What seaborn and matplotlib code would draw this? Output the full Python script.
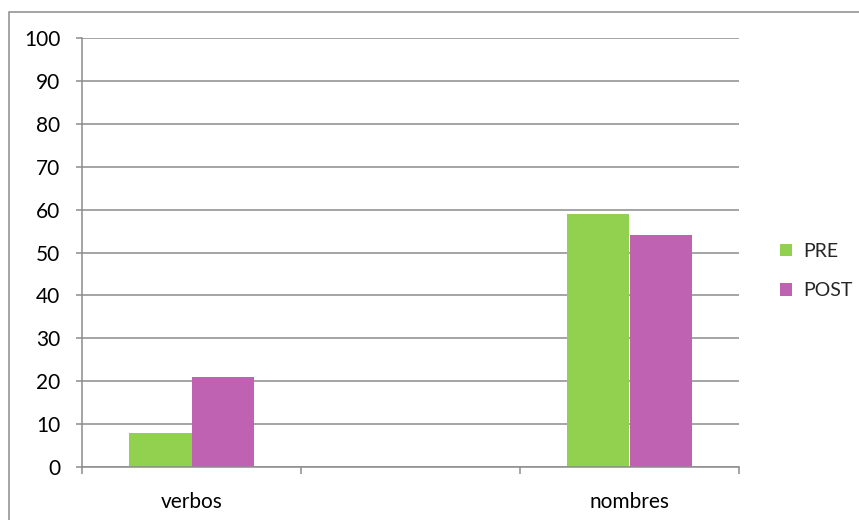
import numpy as np
import pandas as pd
import matplotlib
matplotlib.use("Agg")
import matplotlib.pyplot as plt
from matplotlib.patches import Rectangle
from matplotlib.ticker import FixedLocator
import seaborn as sns

# data (middle category is an empty slot)
categories = ["verbos", " ", "nombres"]
pre = [8, np.nan, 59]
post = [21, np.nan, 54]
series = ["PRE", "POST"]
colors = ["#92D050", "#C062B2"]

df = pd.DataFrame({
    "cat": categories * 2,
    "serie": ["PRE"] * 3 + ["POST"] * 3,
    "valor": pre + post,
}).dropna()

sns.set_style("white")
plt.rcParams["font.family"] = ["Lato", "DejaVu Sans"]

fig = plt.figure(figsize=(8.59, 5.2), dpi=100)
ax = fig.add_axes([82 / 859, 53 / 520, 657 / 859, 429 / 520])

sns.barplot(data=df, x="cat", y="valor", hue="serie", order=categories,
            hue_order=series, palette=colors, width=0.575, saturation=1,
            linewidth=0, ax=ax)

grid_c = "#8c8c8c"
ax.set_ylim(0, 100)
ax.set_xlim(-0.5, 2.5)
ax.set_yticks(range(0, 101, 10))
ax.yaxis.grid(True, color=grid_c, linewidth=1.1)
ax.set_axisbelow(True)
ax.set_xlabel("")
ax.set_ylabel("")

for s in ["top", "right"]:
    ax.spines[s].set_visible(False)
for s in ["left", "bottom"]:
    ax.spines[s].set_color(grid_c)
    ax.spines[s].set_linewidth(1.1)

ax.tick_params(axis="y", length=4.5, width=1.1, color=grid_c, pad=11,
               labelsize=15, labelcolor="black", left=True)
ax.tick_params(axis="x", which="major", length=0, pad=18,
               labelsize=15, labelcolor="black")
ax.xaxis.set_minor_locator(FixedLocator([-0.5, 0.5, 1.5, 2.5]))
ax.tick_params(axis="x", which="minor", length=5, width=1.1, color=grid_c,
               bottom=True)

handles, labels = ax.get_legend_handles_labels()
ax.legend(handles, labels, loc="center left", bbox_to_anchor=(762 / 859, 1 - 271 / 520),
          bbox_transform=fig.transFigure, frameon=False, fontsize=14,
          handlelength=0.65, handleheight=0.65, handletextpad=0.55, labelspacing=1.15)

fig.patches.append(Rectangle((9 / 859, -0.2), 2, 1.2 - 12 / 520,
                             transform=fig.transFigure, fill=False,
                             edgecolor=grid_c, linewidth=1.1, figure=fig))

fig.savefig("out.png", dpi=100)
